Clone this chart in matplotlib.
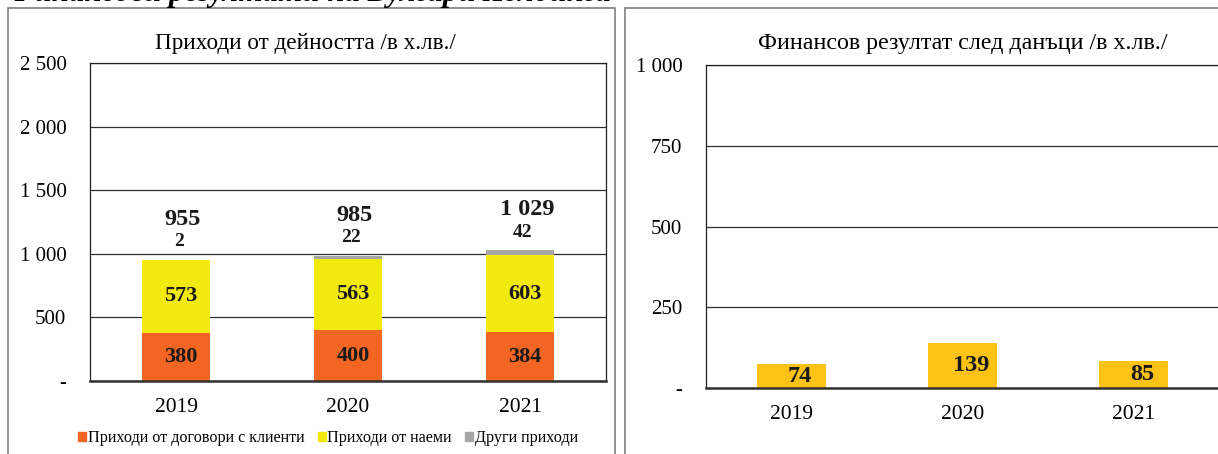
import numpy as np
import matplotlib.pyplot as plt
from matplotlib.patches import Rectangle, Patch

plt.rcParams['font.family'] = ['Liberation Serif', 'DejaVu Serif']

# data
years = ['2019', '2020', '2021']
contracts = [380, 400, 384]
rent = [573, 563, 603]
other = [2, 22, 42]
profit = [74, 139, 85]

left_ticks = [0, 500, 1000, 1500, 2000, 2500]
left_ticklabels = ['-', '500', '1 000', '1 500', '2 000', '2 500']
right_ticks = [0, 250, 500, 750, 1000]
right_ticklabels = ['-', '250', '500', '750', '1 000']

c_contracts = '#F26522'
c_rent = '#F2EA0F'
c_other = '#A6A6A6'
c_profit = '#FCC216'


def fmt(v):
    return f'{v:,}'.replace(',', ' ')


def style_axes(ax, ticks, labels, ymax):
    ax.set_ylim(0, ymax)
    ax.set_xlim(-0.5, 2.5)
    ax.set_yticks(ticks)
    ax.set_yticklabels(labels)
    ax.set_xticks(range(len(years)))
    ax.set_xticklabels(years)
    ax.tick_params(axis='y', length=0, pad=17, labelsize=15)
    ax.tick_params(axis='x', length=0, pad=12, labelsize=15.5)
    ax.grid(axis='y', color='#303030', lw=0.9)
    ax.set_axisbelow(True)
    for s in ['left', 'right', 'top']:
        ax.spines[s].set_color('#202020')
        ax.spines[s].set_linewidth(0.9)
    ax.spines['bottom'].set_color('#303030')
    ax.spines['bottom'].set_linewidth(1.8)


def main():
    fig = plt.figure(figsize=(12.18, 4.54), dpi=100)
    W, H = 1218, 454

    # panel frames
    fig.patches.append(Rectangle((8 / W, -0.05), 607 / W, 1.05 - 8 / H,
                                 transform=fig.transFigure, fill=False,
                                 ec='#7f7f7f', lw=1.2))
    fig.patches.append(Rectangle((625 / W, -0.05), 0.6, 1.05 - 8 / H,
                                 transform=fig.transFigure, fill=False,
                                 ec='#7f7f7f', lw=1.2))

    # cut-off page heading (only its lower edge shows)
    fig.text(8 / W, 1 - 1 / H, 'Финансови резултати на Булгари Холдинга',
             fontsize=22.3, fontweight='bold', fontstyle='italic',
             va='baseline', ha='left')

    # left chart: stacked revenue
    ax1 = fig.add_axes([90 / W, 1 - 381 / H, 516 / W, 318 / H])
    x = np.arange(len(years))
    w = 0.4
    ax1.bar(x, contracts, w, color=c_contracts)
    ax1.bar(x, rent, w, bottom=contracts, color=c_rent)
    base = np.array(contracts) + np.array(rent)
    ax1.bar(x, other, w, bottom=base, color=c_other)
    style_axes(ax1, left_ticks, left_ticklabels, 2500)

    for i in range(len(years)):
        ax1.text(x[i] + 0.03, contracts[i] / 2, fmt(contracts[i]), ha='center',
                 va='center', fontsize=16, fontweight='bold', color='#1a1a1a')
        ax1.text(x[i] + 0.03, contracts[i] + rent[i] / 2, fmt(rent[i]), ha='center',
                 va='center', fontsize=16, fontweight='bold', color='#1a1a1a')
        top = base[i] + other[i]
        ax1.annotate(fmt(other[i]), (x[i], top), xytext=(2, 13),
                     textcoords='offset points', ha='center', va='center',
                     fontsize=14, fontweight='bold', color='#1a1a1a')
        ax1.annotate(fmt(int(top)), (x[i], top), xytext=(5, 29),
                     textcoords='offset points', ha='center', va='center',
                     fontsize=17.5, fontweight='bold', color='#1a1a1a')

    fig.text(305 / W, 1 - 43 / H, 'Приходи от дейността /в х.лв./',
             ha='center', va='center', fontsize=16.7)

    handles = [Patch(color=c_contracts), Patch(color=c_rent), Patch(color=c_other)]
    names = ['Приходи от договори с клиенти', 'Приходи от наеми', 'Други приходи']
    fig.legend(handles, names, loc='center', bbox_to_anchor=(328 / W, 1 - 438 / H),
               ncol=3, frameon=False, fontsize=11.6, handlelength=0.5,
               handleheight=0.5, handletextpad=0.12, columnspacing=0.8)

    # right chart: result after tax
    ax2 = fig.add_axes([706 / W, 1 - 388 / H, 513 / W, 323 / H])
    ax2.bar(x, profit, w, color=c_profit)
    style_axes(ax2, right_ticks, right_ticklabels, 1000)
    for i in range(len(years)):
        ax2.text(x[i] + 0.05, profit[i] / 2, fmt(profit[i]), ha='center',
                 va='center', fontsize=17.5, fontweight='bold', color='#1a1a1a')

    fig.text(963 / W, 1 - 43 / H, 'Финансов резултат след данъци /в х.лв./',
             ha='center', va='center', fontsize=17.3)

    fig.savefig('out.png', dpi=100)


if __name__ == '__main__':
    main()
